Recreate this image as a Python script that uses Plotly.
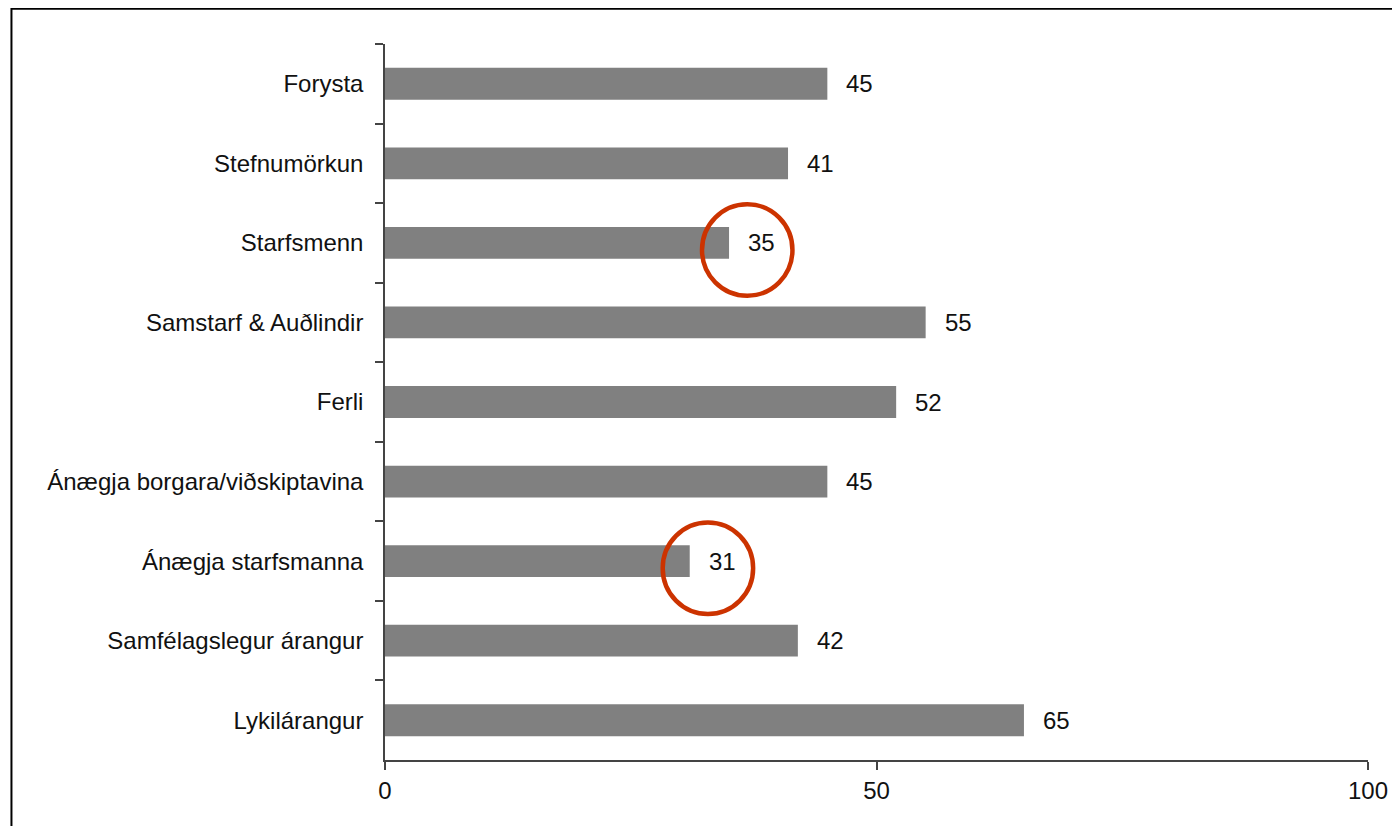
import plotly.graph_objects as go

categories = ["Forysta", "Stefnumörkun", "Starfsmenn", "Samstarf & Auðlindir", "Ferli",
              "Ánægja borgara/viðskiptavina", "Ánægja starfsmanna", "Samfélagslegur árangur", "Lykilárangur"]
values = [45, 41, 35, 55, 52, 45, 31, 42, 65]
x_ticks = [0, 50, 100]
highlighted = ["Starfsmenn", "Ánægja starfsmanna"]

FONT = "Liberation Sans, Arial, sans-serif"
# page body adds an 8px offset, so the figure is laid out 8px up/left
W, H = 1392, 818
L, T = 377, 36
pw, ph = 990, 716
R, B = W - L - pw, H - T - ph

fig = go.Figure()
fig.add_trace(go.Bar(
    x=values, y=categories, orientation="h",
    marker=dict(color="#808080", line=dict(width=0)),
    hoverinfo="x+y",
))

# value labels
for c, v in zip(categories, values):
    fig.add_annotation(x=v, y=c, xref="x", yref="y", text=str(v), showarrow=False,
                       xanchor="left", yanchor="middle", xshift=17,
                       font=dict(family=FONT, size=24, color="#111111"))

# highlight circles
for c in highlighted:
    i = categories.index(c)
    v = values[i]
    cx = v + 1.85
    cy = i + 0.09
    rx, ry = 4.6, 0.575
    fig.add_shape(type="circle", xref="x", yref="y",
                  x0=cx - rx, x1=cx + rx, y0=cy - ry, y1=cy + ry,
                  line=dict(color="#CC3300", width=4.5), layer="above")

# outer border
fig.add_shape(type="rect", xref="paper", yref="paper",
              x0=(0.8 - L) / pw, x1=(1410 - L) / pw,
              y0=(T + ph - 840) / ph, y1=(T + ph - 0.8) / ph,
              line=dict(color="black", width=2), fillcolor="rgba(0,0,0,0)", layer="above")

fig.update_layout(
    width=W, height=H,
    margin=dict(l=L, r=R, t=T, b=B, pad=0),
    plot_bgcolor="white", paper_bgcolor="white",
    bargap=0.6,
    showlegend=False,
    font=dict(family=FONT, size=24, color="#111111"),
)
fig.update_xaxes(
    range=[0, 100], tickvals=x_ticks, ticktext=[str(t) for t in x_ticks],
    showgrid=False, zeroline=False,
    showline=True, linecolor="#444444", linewidth=1.5,
    ticks="outside", ticklen=8, tickwidth=1.5, tickcolor="#444444",
    tickfont=dict(family=FONT, size=24, color="#111111"),
)
fig.update_yaxes(
    type="category", categoryorder="array", categoryarray=categories,
    range=[len(categories) - 0.5, -0.5],
    showgrid=False, zeroline=False,
    showline=True, linecolor="#444444", linewidth=1.5,
    ticks="outside", ticklen=8, tickwidth=1.5, tickcolor="#444444",
    tickson="boundaries", ticklabelstandoff=15,
    tickfont=dict(family=FONT, size=24, color="#111111"),
)

fig.write_html("out.html")
